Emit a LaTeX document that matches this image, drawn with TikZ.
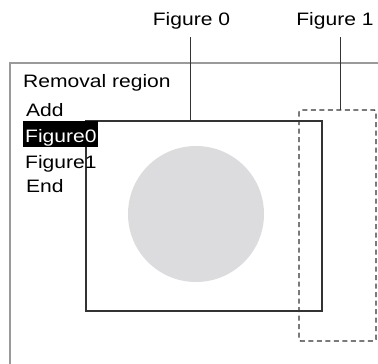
\documentclass[tikz,border=0pt]{standalone}
\usepackage{fontspec}
\newfontfamily\labfont[FakeStretch=1.17]{Liberation Sans}
\definecolor{framegray}{HTML}{9A9A9A}
\definecolor{linegray}{HTML}{333333}
\definecolor{circgray}{HTML}{DCDCDE}
\tikzset{
  lab/.style={font=\labfont\fontsize{18}{21}\selectfont, inner sep=0pt, text=black},
  menu/.style={lab, anchor=base west},
  solidbox/.style={draw=linegray, line width=1.3pt},
  dashbox/.style={draw=linegray, line width=1.1pt, dash pattern=on 5pt off 3.5pt, rounded corners=1.5pt},
  leader/.style={draw=linegray, line width=1pt}
}
\begin{document}
\begin{tikzpicture}[x=1pt,y=-1pt]
\useasboundingbox (0,0) rectangle (378,364);
\clip (0,0) rectangle (378,364);
% outer window frame
\draw[framegray, line width=2pt] (10,63) -- (390,63);
\draw[framegray, line width=2pt] (10,62) -- (10,380);
% figure 0 circle
\fill[circgray] (196,214) circle (68);
% rectangles
\draw[solidbox] (86,121) rectangle (322,311);
\draw[dashbox] (299,110) rectangle (376,341);
\coordinate (r0top) at (190,121);
\coordinate (r1top) at (340,110);
% labels and leaders
\node[lab, anchor=base] (f0) at (191.5,25) {Figure 0};
\node[lab, anchor=base] (f1) at (335,25) {Figure 1};
\coordinate (f0a) at (190,37);
\coordinate (f1a) at (340,37);
\draw[leader] (f0a) -- (r0top);
\draw[leader] (f1a) -- (r1top);
% menu
\node[menu] (title) at (23,87) {Removal region};
\node[menu] (add) at (26,116) {Add};
\fill[black] (23,121) rectangle (98,147);
\node[menu, text=white] (fig0) at (25,142) {Figure0};
\node[menu] (fig1) at (25,168) {Figure1};
\node[menu] (endi) at (26,192) {End};
\end{tikzpicture}
\end{document}
